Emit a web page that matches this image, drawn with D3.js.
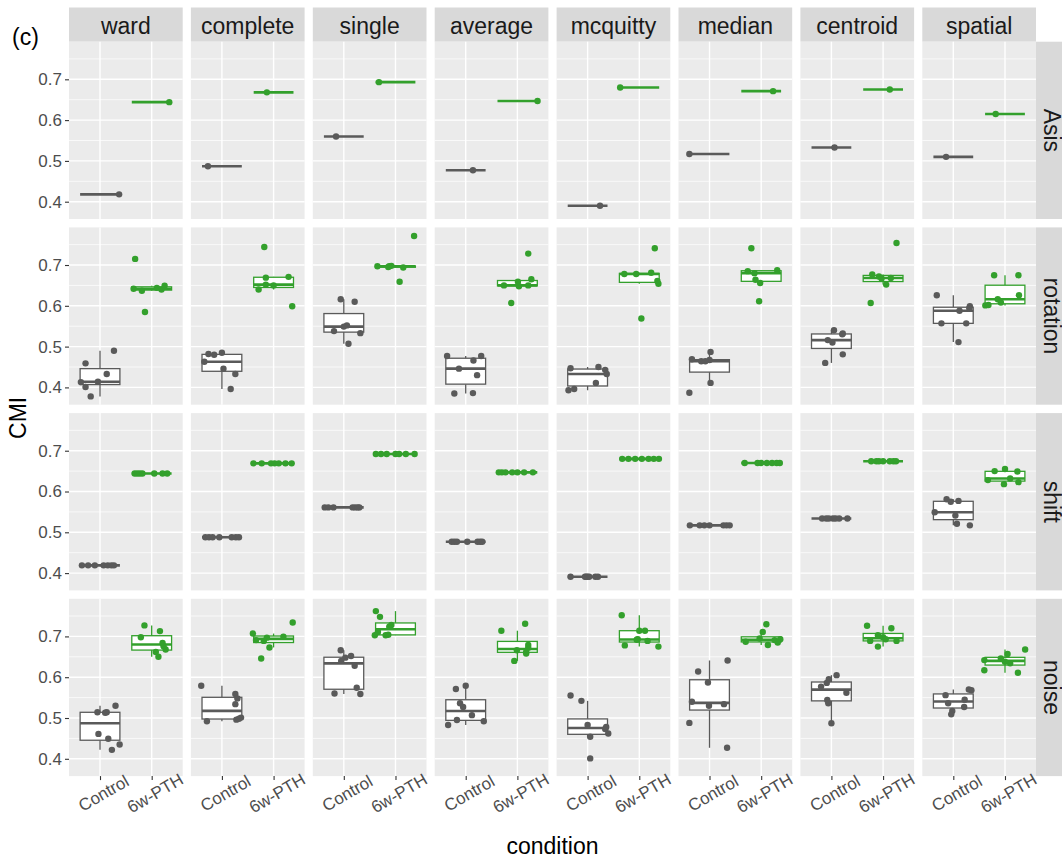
<!DOCTYPE html>
<html>
<head>
<meta charset="utf-8">
<script src="https://cdn.jsdelivr.net/npm/d3@7"></script>
<style>
  body { margin: 0; background: #ffffff; }
  svg { display: block; }
  text { font-family: "Liberation Sans", Arial, sans-serif; }
</style>
</head>
<body>
<svg id="chart" width="1062" height="862"></svg>
<script>
// ---- facets, groups and axis ticks ----
const methods = ["ward", "complete", "single", "average", "mcquitty", "median", "centroid", "spatial"];
const scenarios = ["Asis", "rotation", "shift", "noise"];
const conditions = ["Control", "6w-PTH"];
const yTicks = [0.4, 0.5, 0.6, 0.7];
const yMinorTicks = [0.45, 0.55, 0.65, 0.75];

// ---- CMI values: one array of replicates per clustering method ----
const asisControl = [[0.418], [0.487], [0.560], [0.477], [0.390], [0.517], [0.533], [0.510]];
const asisPTH = [[0.644], [0.668], [0.693], [0.647], [0.680], [0.671], [0.675], [0.615]];

const rotationControl = [
  [0.459, 0.490, 0.413, 0.401, 0.378, 0.414, 0.433],
  [0.463, 0.482, 0.480, 0.485, 0.446, 0.433, 0.396],
  [0.616, 0.610, 0.552, 0.538, 0.533, 0.507, 0.549],
  [0.477, 0.477, 0.466, 0.446, 0.430, 0.385, 0.386],
  [0.447, 0.450, 0.443, 0.433, 0.411, 0.393, 0.396],
  [0.469, 0.464, 0.467, 0.487, 0.411, 0.387, 0.464],
  [0.540, 0.532, 0.516, 0.510, 0.481, 0.460, 0.530],
  [0.626, 0.599, 0.588, 0.557, 0.557, 0.511, 0.594]
];
const rotationPTH = [
  [0.715, 0.585, 0.642, 0.637, 0.644, 0.640, 0.649],
  [0.744, 0.669, 0.671, 0.652, 0.650, 0.640, 0.599],
  [0.771, 0.697, 0.697, 0.698, 0.694, 0.659, 0.695],
  [0.728, 0.650, 0.648, 0.650, 0.665, 0.659, 0.607],
  [0.741, 0.678, 0.678, 0.681, 0.661, 0.654, 0.569],
  [0.741, 0.685, 0.680, 0.687, 0.664, 0.656, 0.611],
  [0.754, 0.677, 0.672, 0.667, 0.652, 0.607, 0.668],
  [0.675, 0.675, 0.626, 0.616, 0.608, 0.601, 0.602]
];

const shiftControl = [
  [0.419, 0.419, 0.419, 0.419, 0.419, 0.419, 0.419],
  [0.488, 0.488, 0.488, 0.488, 0.488, 0.488, 0.488],
  [0.561, 0.561, 0.561, 0.561, 0.561, 0.561, 0.561],
  [0.477, 0.477, 0.477, 0.477, 0.477, 0.477, 0.477],
  [0.391, 0.391, 0.391, 0.391, 0.391, 0.391, 0.391],
  [0.517, 0.517, 0.517, 0.517, 0.517, 0.517, 0.517],
  [0.534, 0.534, 0.534, 0.534, 0.534, 0.534, 0.534],
  [0.581, 0.577, 0.549, 0.541, 0.521, 0.517, 0.575]
];
const shiftPTH = [
  [0.644, 0.644, 0.644, 0.644, 0.644, 0.644, 0.644],
  [0.669, 0.669, 0.669, 0.669, 0.669, 0.669, 0.669],
  [0.692, 0.692, 0.692, 0.692, 0.692, 0.692, 0.692],
  [0.647, 0.647, 0.647, 0.647, 0.647, 0.647, 0.647],
  [0.680, 0.680, 0.680, 0.680, 0.680, 0.680, 0.680],
  [0.670, 0.670, 0.670, 0.670, 0.670, 0.670, 0.670],
  [0.674, 0.674, 0.674, 0.674, 0.674, 0.674, 0.674],
  [0.655, 0.649, 0.628, 0.618, 0.623, 0.650, 0.632]
];

const noiseControl = [
  [0.514, 0.514, 0.530, 0.461, 0.449, 0.435, 0.422, 0.513],
  [0.579, 0.559, 0.548, 0.534, 0.492, 0.496, 0.501, 0.498],
  [0.666, 0.652, 0.648, 0.628, 0.640, 0.574, 0.560, 0.559],
  [0.571, 0.579, 0.536, 0.527, 0.507, 0.495, 0.483, 0.492],
  [0.555, 0.542, 0.483, 0.454, 0.473, 0.462, 0.401, 0.478],
  [0.641, 0.614, 0.587, 0.540, 0.530, 0.534, 0.488, 0.427],
  [0.605, 0.595, 0.586, 0.577, 0.562, 0.544, 0.536, 0.487],
  [0.570, 0.568, 0.556, 0.545, 0.527, 0.517, 0.509, 0.536]
];
const noisePTH = [
  [0.727, 0.713, 0.698, 0.684, 0.662, 0.650, 0.668, 0.676],
  [0.707, 0.734, 0.691, 0.697, 0.689, 0.673, 0.646, 0.699],
  [0.762, 0.748, 0.703, 0.711, 0.703, 0.704, 0.724, 0.728],
  [0.714, 0.731, 0.679, 0.666, 0.658, 0.640, 0.662, 0.672],
  [0.752, 0.714, 0.714, 0.678, 0.693, 0.689, 0.675, 0.692],
  [0.730, 0.711, 0.687, 0.695, 0.679, 0.691, 0.693, 0.685],
  [0.726, 0.720, 0.703, 0.698, 0.689, 0.689, 0.675, 0.693],
  [0.668, 0.657, 0.646, 0.642, 0.634, 0.617, 0.611, 0.638]
];

// ---- horizontal jitter of each replicate, in units of category spacing ----
const asisControlJitter = [[0.37], [-0.27], [-0.15], [0.14], [0.24], [-0.39], [0.06], [-0.14]];
const asisPTHJitter = [[0.34], [-0.13], [-0.32], [0.39], [-0.37], [0.23], [0.13], [-0.18]];
const rotationControlJitter = [
  [-0.28, 0.27, -0.37, -0.28, -0.18, -0.04, 0.13],
  [-0.34, -0.26, -0.15, 0.00, 0.03, 0.26, 0.17],
  [-0.06, 0.21, 0.06, -0.19, 0.32, 0.09, 0.00],
  [-0.36, 0.30, 0.15, -0.13, 0.22, -0.22, 0.14],
  [-0.33, 0.21, 0.34, 0.37, 0.16, -0.37, -0.26],
  [-0.34, -0.16, 0.00, 0.02, 0.02, -0.39, -0.08],
  [0.05, 0.22, -0.07, 0.02, 0.22, -0.12, 0.21],
  [-0.32, 0.32, 0.12, -0.23, 0.25, 0.10, 0.31]
];
const rotationPTHJitter = [
  [-0.32, -0.13, -0.35, -0.19, 0.10, 0.19, 0.25],
  [-0.18, -0.15, 0.29, -0.15, 0.00, -0.29, 0.36],
  [0.36, -0.35, -0.12, -0.08, 0.15, 0.08, -0.14],
  [0.21, -0.26, 0.03, 0.21, 0.27, 0.01, -0.12],
  [0.30, -0.29, -0.06, 0.23, 0.35, 0.37, 0.04],
  [-0.19, -0.26, -0.13, 0.31, -0.11, -0.02, -0.04],
  [0.26, -0.21, -0.08, -0.03, 0.06, -0.24, 0.15],
  [-0.21, 0.26, 0.27, -0.14, -0.08, -0.38, -0.32]
];
const shiftControlJitter = [
  [-0.35, -0.23, -0.10, 0.07, 0.15, 0.22, 0.27],
  [-0.32, -0.25, -0.18, -0.05, 0.19, 0.27, 0.33],
  [-0.37, -0.30, -0.20, 0.17, 0.22, 0.27, 0.30],
  [-0.27, -0.22, -0.17, 0.03, 0.23, 0.28, 0.32],
  [-0.33, -0.05, -0.03, 0.00, 0.03, 0.15, 0.20],
  [-0.38, -0.19, -0.10, 0.00, 0.27, 0.33, 0.39],
  [-0.18, -0.10, -0.05, 0.03, 0.08, 0.15, 0.31],
  [-0.13, 0.10, -0.36, 0.04, 0.07, 0.32, -0.05]
];
const shiftPTHJitter = [
  [-0.33, -0.28, -0.23, -0.18, 0.05, 0.21, 0.30],
  [-0.39, -0.23, -0.05, 0.02, 0.10, 0.23, 0.35],
  [-0.38, -0.28, -0.17, 0.00, 0.07, 0.20, 0.37],
  [-0.36, -0.30, -0.23, -0.10, 0.00, 0.13, 0.30],
  [-0.33, -0.21, -0.08, 0.05, 0.18, 0.28, 0.38],
  [-0.32, -0.07, 0.00, 0.11, 0.21, 0.30, 0.36],
  [-0.23, -0.13, -0.08, 0.00, 0.13, 0.20, 0.25],
  [0.00, 0.24, -0.33, -0.02, 0.26, -0.20, 0.10]
];
const noiseControlJitter = [
  [-0.05, 0.13, 0.30, -0.03, 0.16, 0.38, 0.23, 0.10],
  [-0.40, 0.26, 0.30, 0.26, -0.29, 0.28, 0.37, 0.33],
  [-0.06, 0.14, 0.03, 0.21, -0.05, 0.25, -0.18, 0.32],
  [-0.19, 0.00, -0.11, -0.05, 0.12, -0.17, -0.34, 0.35],
  [-0.33, -0.12, 0.00, 0.05, 0.34, 0.40, 0.05, 0.36],
  [0.35, -0.22, -0.03, -0.34, -0.01, 0.28, -0.39, 0.34],
  [0.10, -0.05, -0.09, -0.20, 0.29, -0.08, -0.06, 0.00],
  [0.30, 0.35, -0.15, 0.22, 0.21, -0.02, -0.04, -0.10]
];
const noisePTHJitter = [
  [-0.14, 0.16, -0.21, 0.21, 0.08, 0.13, 0.27, 0.23],
  [-0.40, 0.37, -0.34, -0.13, -0.19, -0.08, -0.24, 0.19],
  [-0.38, -0.30, -0.40, -0.34, -0.19, -0.14, -0.12, -0.08],
  [-0.31, 0.15, 0.21, -0.01, 0.17, -0.06, 0.17, 0.21],
  [-0.34, 0.00, 0.11, -0.28, -0.03, 0.16, 0.37, -0.05],
  [0.10, 0.03, -0.30, -0.03, 0.13, 0.26, 0.37, 0.32],
  [-0.31, 0.16, -0.10, 0.00, -0.25, 0.26, -0.10, 0.05],
  [0.39, 0.05, -0.08, -0.40, 0.10, -0.40, 0.25, 0.00]
];

const valuesByScenario = {
  Asis: [asisControl, asisPTH],
  rotation: [rotationControl, rotationPTH],
  shift: [shiftControl, shiftPTH],
  noise: [noiseControl, noisePTH]
};
const jitterByScenario = {
  Asis: [asisControlJitter, asisPTHJitter],
  rotation: [rotationControlJitter, rotationPTHJitter],
  shift: [shiftControlJitter, shiftPTHJitter],
  noise: [noiseControlJitter, noisePTHJitter]
};

// ---- layout ----
const colors = ["#5a5a5a", "#33a02c"];
const panelLeft = 69, panelTop = 41.7;
const panelW = 113.7, panelH = 177.3;
const stepX = 121.9, stepY = 185.7;
const stripH = 34.2;
const boxWidth = 0.77;   // in category units
const pointR = 3.2;
const fontStack = '"Liberation Sans", Arial, sans-serif';

const svg = d3.select("#chart");

// shared scales for every panel (local panel coordinates)
const x = d3.scaleLinear().domain([0.4, 2.6]).range([0, panelW]);
const y = d3.scaleLinear().domain([0.3576, 0.7922]).range([panelH, 0]);
const xCat = d3.scalePoint().domain(conditions).range([x(1), x(2)]);

function boxStats(vals) {
  const s = vals.slice().sort(d3.ascending);
  const q1 = d3.quantileSorted(s, 0.25);
  const med = d3.quantileSorted(s, 0.5);
  const q3 = d3.quantileSorted(s, 0.75);
  const iqr = q3 - q1;
  const lo = d3.min(s.filter(v => v >= q1 - 1.5 * iqr));
  const hi = d3.max(s.filter(v => v <= q3 + 1.5 * iqr));
  return { q1, med, q3, lo, hi };
}

// top strips
methods.forEach((m, c) => {
  const gx = panelLeft + c * stepX;
  svg.append("rect")
    .attr("x", gx).attr("y", panelTop - stripH)
    .attr("width", panelW).attr("height", stripH)
    .attr("fill", "#d9d9d9");
  svg.append("text")
    .attr("x", gx + panelW / 2).attr("y", panelTop - stripH / 2 + 1)
    .attr("text-anchor", "middle").attr("dominant-baseline", "central")
    .attr("font-size", 23).attr("fill", "#1a1a1a")
    .text(m);
});

// right strips
scenarios.forEach((s, r) => {
  const gy = panelTop + r * stepY;
  const sx = panelLeft + 7 * stepX + panelW;
  svg.append("rect")
    .attr("x", sx).attr("y", gy)
    .attr("width", stripH).attr("height", panelH)
    .attr("fill", "#d9d9d9");
  svg.append("text")
    .attr("transform", `translate(${sx + stripH / 2 - 1},${gy + panelH / 2}) rotate(90)`)
    .attr("text-anchor", "middle").attr("dominant-baseline", "central")
    .attr("font-size", 23).attr("fill", "#1a1a1a")
    .text(s);
});

// panels
scenarios.forEach((scen, r) => {
  methods.forEach((m, c) => {
    const g = svg.append("g")
      .attr("transform", `translate(${panelLeft + c * stepX},${panelTop + r * stepY})`);

    g.append("rect").attr("width", panelW).attr("height", panelH).attr("fill", "#ebebeb");

    g.selectAll("line.minor").data(yMinorTicks.filter(t => y(t) >= 0 && y(t) <= panelH))
      .join("line").attr("class", "minor")
      .attr("x1", 0).attr("x2", panelW)
      .attr("y1", d => y(d)).attr("y2", d => y(d))
      .attr("stroke", "#ffffff").attr("stroke-width", 0.7);
    g.selectAll("line.major").data(yTicks)
      .join("line").attr("class", "major")
      .attr("x1", 0).attr("x2", panelW)
      .attr("y1", d => y(d)).attr("y2", d => y(d))
      .attr("stroke", "#ffffff").attr("stroke-width", 1.4);
    g.selectAll("line.vmajor").data(conditions)
      .join("line").attr("class", "vmajor")
      .attr("x1", d => xCat(d)).attr("x2", d => xCat(d))
      .attr("y1", 0).attr("y2", panelH)
      .attr("stroke", "#ffffff").attr("stroke-width", 1.4);

    conditions.forEach((cond, k) => {
      const vals = valuesByScenario[scen][k][c];
      const jit = jitterByScenario[scen][k][c];
      const col = colors[k];
      const cx = xCat(cond);
      const half = (x(1 + boxWidth / 2) - x(1));
      const st = boxStats(vals);
      const bg = g.append("g");

      // whiskers
      bg.append("line")
        .attr("x1", cx).attr("x2", cx).attr("y1", y(st.q3)).attr("y2", y(st.hi))
        .attr("stroke", col).attr("stroke-width", 1.3);
      bg.append("line")
        .attr("x1", cx).attr("x2", cx).attr("y1", y(st.q1)).attr("y2", y(st.lo))
        .attr("stroke", col).attr("stroke-width", 1.3);
      // box
      bg.append("rect")
        .attr("x", cx - half).attr("y", y(st.q3))
        .attr("width", 2 * half).attr("height", Math.max(0, y(st.q1) - y(st.q3)))
        .attr("fill", "#ffffff").attr("stroke", col).attr("stroke-width", 1.3);
      // median
      bg.append("line")
        .attr("x1", cx - half).attr("x2", cx + half)
        .attr("y1", y(st.med)).attr("y2", y(st.med))
        .attr("stroke", col).attr("stroke-width", 2.6);

      // jittered replicates
      g.selectAll(null).data(vals.map((v, i) => ({ v, j: jit[i] })))
        .join("circle")
        .attr("cx", d => x(k + 1 + d.j))
        .attr("cy", d => y(d.v))
        .attr("r", pointR)
        .attr("fill", col);
    });

    // y axis on the first column
    if (c === 0) {
      const ax = g.append("g")
        .call(d3.axisLeft(y).tickValues(yTicks).tickFormat(d3.format(".1f")).tickSize(4).tickPadding(3));
      ax.select(".domain").remove();
      ax.selectAll(".tick line").attr("stroke", "#333333").attr("stroke-width", 1.1);
      ax.selectAll(".tick text").attr("fill", "#4d4d4d").attr("font-size", 17)
        .style("font-family", fontStack);
    }
    // x axis on the last row
    if (r === scenarios.length - 1) {
      const ax = g.append("g").attr("transform", `translate(0,${panelH})`)
        .call(d3.axisBottom(xCat).tickSize(4));
      ax.select(".domain").remove();
      ax.selectAll(".tick line").attr("stroke", "#333333").attr("stroke-width", 1.1);
      ax.selectAll(".tick text")
        .attr("fill", "#4d4d4d").attr("font-size", 17)
        .style("font-family", fontStack)
        .attr("y", 0).attr("dy", "0.35em")
        .attr("text-anchor", "middle")
        .attr("transform", "translate(3,17) rotate(-30)");
    }
  });
});

// axis titles and panel tag
svg.append("text")
  .attr("transform", `translate(18,${panelTop + (3 * stepY + panelH) / 2 + 9}) rotate(-90)`)
  .attr("text-anchor", "middle").attr("dominant-baseline", "central")
  .attr("font-size", 23).attr("fill", "#000000")
  .text("CMI");
svg.append("text")
  .attr("x", panelLeft + (7 * stepX + panelW) / 2).attr("y", 846)
  .attr("text-anchor", "middle").attr("dominant-baseline", "central")
  .attr("font-size", 23).attr("fill", "#000000")
  .text("condition");
svg.append("text")
  .attr("x", 12).attr("y", 45)
  .attr("font-size", 23).attr("fill", "#000000")
  .text("(c)");
</script>
</body>
</html>
